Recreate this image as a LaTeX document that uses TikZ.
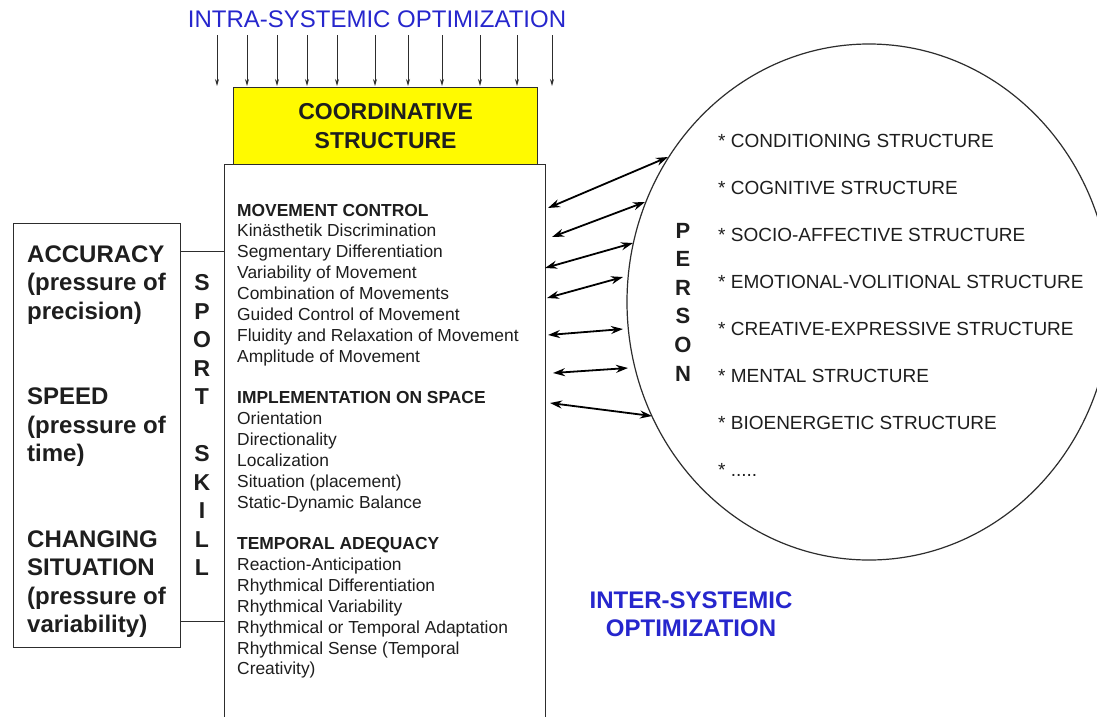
\documentclass[tikz,border=0pt]{standalone}
\usepackage{fontspec}
\setmainfont{Liberation Sans}
\usetikzlibrary{arrows.meta,shapes.geometric}
\definecolor{titleblue}{RGB}{38,38,205}
\definecolor{edgegray}{RGB}{45,45,45}
\definecolor{boxyellow}{RGB}{255,250,0}
\definecolor{txtgray}{RGB}{30,30,30}
\begin{document}
\begin{tikzpicture}[x=1pt,y=-1pt,
  box/.style={draw=edgegray,line width=1.3pt,rectangle,inner sep=0pt},
  lefttxt/.style={font=\fontsize{24}{28.5}\selectfont\bfseries,anchor=base west,inner sep=0pt,text=txtgray},
  sportltr/.style={font=\fontsize{23}{28.5}\selectfont\bfseries,anchor=base,inner sep=0pt,text=txtgray},
  maintxt/.style={font=\fontsize{17.4}{20.9}\selectfont,anchor=base west,inner sep=0pt,text=txtgray},
  circtxt/.style={font=\fontsize{19}{22}\selectfont,anchor=base west,inner sep=0pt,text=txtgray},
  personltr/.style={font=\fontsize{22}{26}\selectfont\bfseries,anchor=base,inner sep=0pt,text=txtgray},
  intraarrow/.style={draw=edgegray,line width=0.9pt,-{Stealth[length=7pt,width=4pt]}},
  linkarrow/.style={draw=black,line width=1.8pt,{Stealth[length=12pt,width=8pt]}-{Stealth[length=12pt,width=8pt]}}
]
\clip (0,0) rectangle (1097,716);
\fill[white] (0,0) rectangle (1097,716);

% title
\node[font=\fontsize{24}{28}\selectfont,text=titleblue,anchor=base,inner sep=0pt] (intra) at (377,27) {INTRA-SYSTEMIC OPTIMIZATION};

% intra arrows
\foreach \x [count=\i] in {217,247,277,307,337,375,408,442,480,517,552} {
  \coordinate (ia\i) at (\x,35);
  \coordinate (ib\i) at (\x,86);
  \draw[intraarrow] (ia\i) -- (ib\i);
}

% main box (extends beyond the bottom edge)
\node[box,anchor=north west,minimum width=321pt,minimum height=600pt] (mainbox) at (224,164) {};

% yellow box
\node[box,fill=boxyellow,anchor=north west,minimum width=304pt,minimum height=77pt] (coord) at (233,87) {};
\node[font=\fontsize{23}{29}\selectfont\bfseries,align=center,inner sep=0pt,text=txtgray] (coordtxt) at (coord.center) {COORDINATIVE\\STRUCTURE};

% left boxes
\node[box,anchor=north west,minimum width=167pt,minimum height=424pt] (leftbox) at (13,223) {};
\node[box,anchor=north west,minimum width=44pt,minimum height=370pt] (sportbox) at (180,251) {};

% left texts
\foreach \k/\t in {0/ACCURACY,1/{(pressure of},2/{precision)},5/SPEED,6/{(pressure of},7/{time)},10/CHANGING,11/SITUATION,12/{(pressure of},13/{variability)}} {
  \node[lefttxt] (l\k) at (27,262+28.5*\k) {\t};
}

% sport skill letters
\foreach \k/\t in {1/S,2/P,3/O,4/R,5/T,7/S,8/K,9/I,10/L,11/L} {
  \node[sportltr] (s\k) at (202,262+28.5*\k) {\t};
}

% main box text
\foreach \k/\t in {0/{\bfseries MOVEMENT CONTROL},1/{Kinästhetik Discrimination},2/{Segmentary Differentiation},3/{Variability of Movement},4/{Combination of Movements},5/{Guided Control of Movement},6/{Fluidity and Relaxation of Movement},7/{Amplitude of Movement},9/{\bfseries IMPLEMENTATION ON SPACE},10/{Orientation},11/{Directionality},12/{Localization},13/{Situation (placement)},14/{Static-Dynamic Balance},16/{\bfseries TEMPORAL ADEQUACY},17/{Reaction-Anticipation},18/{Rhythmical Differentiation},19/{Rhythmical Variability},20/{Rhythmical or Temporal Adaptation},21/{Rhythmical Sense (Temporal},22/{Creativity)}} {
  \node[maintxt] (m\k) at (237,216+20.86*\k) {\t};
}

% person ellipse
\node[draw=edgegray,line width=1.2pt,ellipse,inner sep=0pt,minimum width=484pt,minimum height=516pt] (person) at (869,302) {};

% circle texts
\foreach \k/\t in {0/{* CONDITIONING STRUCTURE},1/{* COGNITIVE STRUCTURE},2/{* SOCIO-AFFECTIVE STRUCTURE},3/{* EMOTIONAL-VOLITIONAL STRUCTURE},4/{* CREATIVE-EXPRESSIVE STRUCTURE},5/{* MENTAL STRUCTURE},6/{* BIOENERGETIC STRUCTURE},7/{* .....}} {
  \node[circtxt] (c\k) at (718,147+47.1*\k) {\t};
}

% PERSON letters
\foreach \k/\t in {0/P,1/E,2/R,3/S,4/O,5/N} {
  \node[personltr] (p\k) at (683,238+28.6*\k) {\t};
}

% link arrows
\coordinate (a1) at (548,208); \coordinate (b1) at (668,157);
\coordinate (a2) at (552,237); \coordinate (b2) at (645,202);
\coordinate (a3) at (545,268); \coordinate (b3) at (633,243);
\coordinate (a4) at (547,298); \coordinate (b4) at (623,277);
\coordinate (a5) at (548,335); \coordinate (b5) at (623,329);
\coordinate (a6) at (553,373); \coordinate (b6) at (628,368);
\coordinate (a7) at (550,403); \coordinate (b7) at (652,416);
\foreach \i in {1,...,7} { \draw[linkarrow] (a\i) -- (b\i); }

% inter-systemic label
\node[font=\fontsize{24}{28}\selectfont\bfseries,text=titleblue,align=center,inner sep=0pt] (inter) at (691,614) {INTER-SYSTEMIC\\OPTIMIZATION};
\end{tikzpicture}
\end{document}
